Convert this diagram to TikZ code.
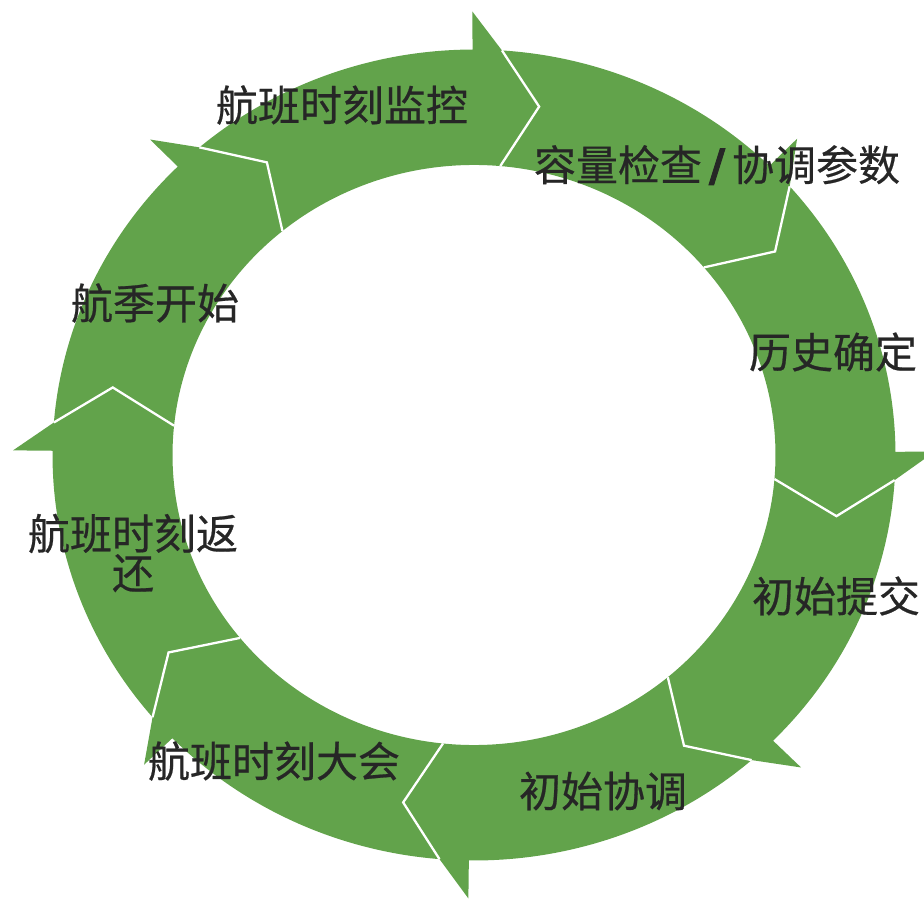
\documentclass[tikz,border=0pt]{standalone}
\usepackage{fontspec}
\setmainfont{Noto Sans CJK SC}
\newfontfamily\lblfont{Noto Sans CJK SC}[FakeBold=0.5]
\newfontfamily\slashfont{DejaVu Sans}[FakeBold=2]
\definecolor{ringgreen}{RGB}{98,163,75}
\definecolor{txt}{RGB}{38,38,38}
\begin{document}
\begin{tikzpicture}[x=1pt,y=1pt,
  seg/.style={fill=ringgreen, draw=none},
  sep/.style={draw=white, line width=2.3pt, line join=miter},
  lbl/.style={text=txt, font=\lblfont\fontsize{42}{38}\selectfont, inner sep=0pt, align=center}]
\useasboundingbox (0,0) rectangle (924,-899);
\begin{scope}
\clip (0,0) rectangle (924,-899);
\begin{scope}[shift={(474,-455)}, yscale=0.962]
\def\Ro{421.5}\def\Ri{301.5}\def\Rt{368}\def\Rb{461}
\foreach \a/\b in {90/45.3, 45.3/0.25, 0.25/-45, -45/-90.9, -90.9/-135.9, -135.9/-180.8, -180.8/-225.55, -225.55/-270}{
  \fill[seg] ({\a-3.8}:\Ro) -- ({\a-10.2}:\Rt) -- ({\a-5}:\Ri)
    arc[start angle={\a-5}, end angle={\b-5}, radius=\Ri]
    -- ({\b-10.2}:\Rt) -- ({\b-3.8}:\Ro) -- ({\b+0.2}:\Rb) -- ({\b+0.2}:\Ro)
    arc[start angle={\b+0.2}, end angle={\a-3.8}, radius=\Ro] -- cycle;
}
\foreach \b in {90, 45.3, 0.25, -45, -90.9, -135.9, -180.8, -225.55}{
  \draw[sep] ({\b-3.8}:\Ro) -- ({\b-10.2}:\Rt) -- ({\b-5}:\Ri);
}
\end{scope}
\end{scope}
\node[lbl] (t1) at (342,-105) {航班时刻监控};
\node[lbl] (t2) at (717,-165) {容量检查\hspace{7pt}{\slashfont\bfseries\fontsize{44}{38}\selectfont /}\hspace{7pt}协调参数};
\node[lbl] (t3) at (833,-352) {历史确定};
\node[lbl] (t4) at (836,-596) {初始提交};
\node[lbl] (t5) at (603,-791) {初始协调};
\node[lbl] (t6) at (274,-761) {航班时刻大会};
\node[lbl] (t7) at (133,-553) {航班时刻返\\还};
\node[lbl] (t8) at (155,-303) {航季开始};
\end{tikzpicture}
\end{document}
